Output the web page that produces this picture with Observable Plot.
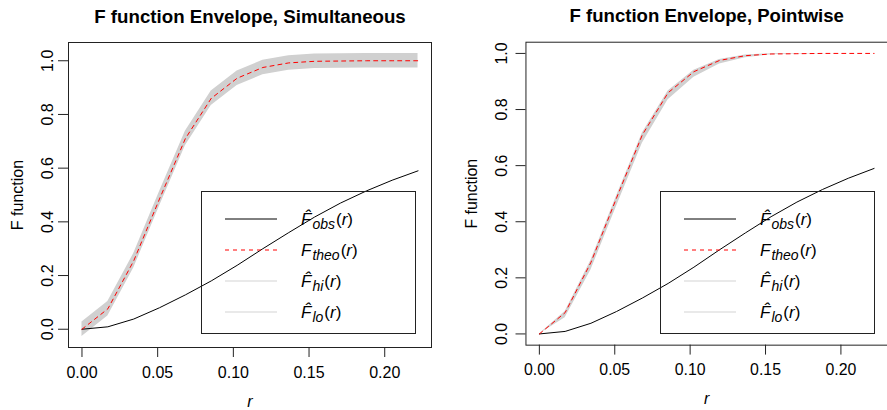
<!DOCTYPE html>
<html>
<head>
<meta charset="utf-8">
<script src="https://cdn.jsdelivr.net/npm/d3@7"></script>
<script src="https://cdn.jsdelivr.net/npm/@observablehq/plot@0.6"></script>
<style>
  html, body { margin: 0; padding: 0; background: #fff; }
  body { width: 887px; height: 410px; overflow: hidden; position: relative; font-family: "Liberation Sans", Arial, sans-serif; }
  .panel { position: absolute; top: 0; }
  .legend { position: absolute; border: 1px solid #222; background: transparent; box-sizing: border-box; }
</style>
</head>
<body>
<div id="left" class="panel" style="left:0px"></div>
<div id="right" class="panel" style="left:445px"></div>
<script>
// ---- data ----
const r      = [0, 0.0171, 0.0342, 0.0512, 0.0683, 0.0854, 0.1025, 0.1195, 0.1366, 0.1537, 0.1708, 0.1878, 0.2049, 0.222];
const Fobs   = [0, 0.009, 0.038, 0.080, 0.128, 0.180, 0.238, 0.300, 0.360, 0.418, 0.470, 0.515, 0.555, 0.590];
const Ftheo  = [0, 0.076, 0.255, 0.485, 0.710, 0.860, 0.935, 0.975, 0.992, 0.998, 0.999, 1.000, 1.000, 1.000];
const simHi  = [0.027, 0.103, 0.282, 0.512, 0.737, 0.887, 0.962, 1.002, 1.019, 1.025, 1.026, 1.027, 1.027, 1.027];
const simLo  = [-0.027, 0.049, 0.228, 0.458, 0.683, 0.833, 0.908, 0.948, 0.965, 0.971, 0.972, 0.973, 0.973, 0.973];
const pwHi   = [0, 0.080, 0.262, 0.492, 0.716, 0.866, 0.940, 0.978, 0.994, 0.999, 1.000, 1.000, 1.000, 1.000];
const pwLo   = [0, 0.058, 0.228, 0.455, 0.680, 0.835, 0.915, 0.962, 0.985, 0.995, 0.998, 0.999, 1.000, 1.000];
const xTicks = [0, 0.05, 0.10, 0.15, 0.20];
const yTicks = [0, 0.2, 0.4, 0.6, 0.8, 1.0];
const titles = ["F function Envelope, Simultaneous", "F function Envelope, Pointwise"];
const yLabel = "F function";
const xLabel = "r";
const legendItems = [
  {sub: "obs", hat: true,  stroke: "#000", dash: null},
  {sub: "theo", hat: false, stroke: "#ff0000", dash: "4,4"},
  {sub: "hi", hat: true,  stroke: "#d3d3d3", dash: null},
  {sub: "lo", hat: true,  stroke: "#d3d3d3", dash: null}
];

const FONT = "'Liberation Sans', Arial, sans-serif";

function panel({title, hi, lo, yDomain, width, marginLeft, marginRight, labelDx, tickDx}) {
  const data = r.map((rv, i) => ({r: rv, obs: Fobs[i], theo: Ftheo[i], hi: hi[i], lo: lo[i]}));
  return Plot.plot({
    width, height: 410,
    marginTop: 42, marginBottom: 63, marginLeft, marginRight,
    x: {domain: [-0.0089, 0.2309]},
    y: {domain: yDomain},
    style: {fontFamily: FONT, fontSize: "16px", background: "transparent", overflow: "visible", color: "#000"},
    marks: [
      Plot.areaY(data, {x: "r", y1: "lo", y2: "hi", fill: "#d0d0d0", curve: "linear"}),
      Plot.lineY(data, {x: "r", y: "obs", stroke: "#000", strokeWidth: 1}),
      Plot.lineY(data, {x: "r", y: "theo", stroke: "#ff0000", strokeWidth: 1, strokeDasharray: "4,4"}),
      Plot.frame({stroke: "#222", strokeWidth: 1}),
      Plot.axisX({ticks: xTicks, tickSize: 10, tickPadding: 9, tickFormat: d3.format(".2f"), label: null, fontSize: 16, stroke: "#222"}),
      Plot.axisY({ticks: yTicks, tickSize: 10, tickFormat: () => "", label: null, stroke: "#222"}),
      Plot.text(yTicks, {y: d => d, text: d => d3.format(".1f")(d), frameAnchor: "left", rotate: -90, dx: tickDx, lineAnchor: "middle", textAnchor: "middle", fontSize: 16}),
      Plot.text([title], {frameAnchor: "top", dy: -20, lineAnchor: "bottom", fontWeight: "bold", fontSize: 18.7}),
      Plot.text([yLabel], {frameAnchor: "left", rotate: -90, dx: labelDx, lineAnchor: "bottom", textAnchor: "middle", fontSize: 16}),
      Plot.text([xLabel], {frameAnchor: "bottom", dy: 59, lineAnchor: "bottom", fontStyle: "italic", fontSize: 16})
    ]
  });
}

function legend(left, top) {
  const w = 215, h = 143;
  const div = document.createElement("div");
  div.className = "legend";
  Object.assign(div.style, {left: left + "px", top: top + "px", width: w + "px", height: h + "px"});
  const svg = d3.create("svg").attr("width", w).attr("height", h).style("position", "absolute").style("left", "-1px").style("top", "-1px");
  const rowY = [28, 59, 90, 121];
  legendItems.forEach((it, i) => {
    const y = rowY[i];
    svg.append("line").attr("x1", 24).attr("x2", 76).attr("y1", y).attr("y2", y)
      .attr("stroke", it.stroke).attr("stroke-width", 1).attr("stroke-dasharray", it.dash);
    const t = svg.append("text").attr("x", 100).attr("y", y + 6)
      .attr("font-family", FONT).attr("font-style", "italic").attr("font-size", 17).attr("fill", "#000");
    t.append("tspan").text(it.hat ? "F\u0302" : "F");
    t.append("tspan").attr("font-size", 14).attr("dy", 4).attr("dx", 1).text(it.sub);
    t.append("tspan").attr("dy", -4).attr("dx", 1).attr("font-style", "normal").text("(");
    t.append("tspan").text("r");
    t.append("tspan").attr("font-style", "normal").text(")");
  });
  div.appendChild(svg.node());
  return div;
}

const leftDiv = document.getElementById("left");
leftDiv.appendChild(panel({title: titles[0], hi: simHi, lo: simLo, yDomain: [-0.068, 1.068], width: 443, marginLeft: 68, marginRight: 12, labelDx: -46, tickDx: -21}));
document.body.appendChild(legend(201, 191));

const rightDiv = document.getElementById("right");
rightDiv.appendChild(panel({title: titles[1], hi: pwHi, lo: pwLo, yDomain: [-0.04, 1.04], width: 445, marginLeft: 81, marginRight: 0, labelDx: -49, tickDx: -24}));
document.body.appendChild(legend(660, 191));
</script>
</body>
</html>
